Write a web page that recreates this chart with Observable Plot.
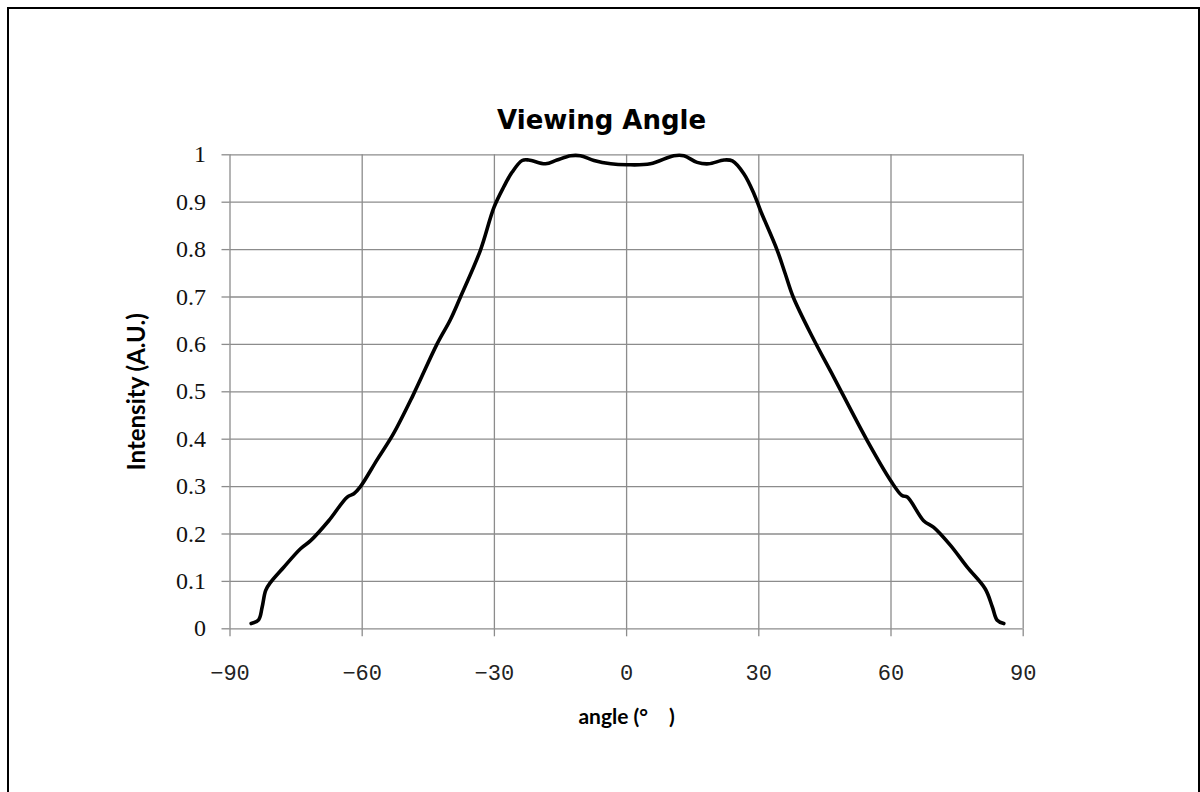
<!DOCTYPE html>
<html>
<head>
<meta charset="utf-8">
<script src="https://cdn.jsdelivr.net/npm/d3@7"></script>
<script src="https://cdn.jsdelivr.net/npm/@observablehq/plot@0.6"></script>
<style>
  html, body { margin: 0; padding: 0; background: #fff; overflow: hidden; width: 1200px; height: 792px; }
  #wrap { position: relative; width: 1200px; height: 792px; }
  #border { position: absolute; left: 7px; top: 7px; width: 1193px; height: 900px; box-sizing: border-box; border: 2px solid #000; pointer-events: none; }
</style>
</head>
<body>
<div id="wrap"><div id="chart"></div><div id="border"></div></div>
<script>
const angles = [-85.2,-83.5,-82.7,-81.9,-80.8,-77.8,-74.0,-71.7,-67.6,-63.4,-61.9,-60.4,-56.6,-53.0,-48.5,-43.0,-40.0,-37.7,-33.2,-30.1,-27.9,-26.0,-23.7,-22.2,-18.4,-15.8,-12.7,-10.5,-7.4,-3.6,0.1,5.4,10.7,13.0,16.0,18.6,22.1,24.0,26.6,28.9,30.4,34.2,36.0,37.8,42.2,47.0,54.6,59.9,62.5,63.7,67.4,69.7,73.5,77.3,81.4,83.0,84.1,85.6];
const intensity = [0.011,0.019,0.046,0.081,0.098,0.130,0.169,0.186,0.228,0.278,0.285,0.300,0.357,0.410,0.492,0.601,0.652,0.700,0.798,0.889,0.932,0.963,0.988,0.989,0.981,0.989,0.998,0.998,0.988,0.981,0.979,0.981,0.998,0.998,0.984,0.981,0.989,0.987,0.960,0.918,0.882,0.798,0.749,0.700,0.615,0.531,0.397,0.313,0.281,0.278,0.228,0.214,0.176,0.130,0.084,0.046,0.018,0.011];
const xTicks = [-90,-60,-30,0,30,60,90];
const yTicks = [0,0.1,0.2,0.3,0.4,0.5,0.6,0.7,0.8,0.9,1];
const title = "Viewing Angle";
const xLabel = "angle (°\u3000)";
const yLabel = "Intensity (A.U.)";

const data = angles.map((a, i) => ({angle: a, value: intensity[i]}));
const grid = "#8c8c8c";

const chart = Plot.plot({
  width: 1200,
  height: 792,
  marginLeft: 229.5,
  marginRight: 177.3,
  marginTop: 154.3,
  marginBottom: 163.7,
  x: {domain: [-90, 90]},
  y: {domain: [0, 1]},
  marks: [
    Plot.gridX(xTicks, {stroke: grid, strokeOpacity: 1, strokeWidth: 1.3}),
    Plot.gridY(yTicks, {stroke: grid, strokeOpacity: 1, strokeWidth: 1.3}),
    Plot.axisX(xTicks, {tickSize: 8, tickPadding: 28, fontSize: 22, fontFamily: "Liberation Mono", stroke: grid, strokeWidth: 1.3, fill: "#222", label: null}),
    Plot.axisY(yTicks, {tickSize: 8, tickPadding: 16, fontSize: 24, fontFamily: "Liberation Serif", stroke: grid, strokeWidth: 1.3, fill: "#111", label: null, tickFormat: d => String(d)}),
    Plot.line(data, {x: "angle", y: "value", curve: "catmull-rom", stroke: "#000", strokeWidth: 3.6}),
    Plot.text([title], {frameAnchor: "top", lineAnchor: "bottom", dy: -26, dx: -25, fontSize: 26, fontWeight: "bold", fontFamily: "DejaVu Sans", fill: "#000", letterSpacing: "-0.3px"}),
    Plot.text([xLabel], {frameAnchor: "bottom", textAnchor: "middle", lineAnchor: "middle", dy: 88, fontSize: 21, fontWeight: "bold", fontFamily: "Lato", fill: "#000"}),
    Plot.text([yLabel], {frameAnchor: "left", textAnchor: "middle", lineAnchor: "middle", rotate: -90, dx: -93, fontSize: 24, fontWeight: "bold", fontFamily: "Lato", fill: "#000"})
  ]
});
document.getElementById("chart").appendChild(chart);
</script>
</body>
</html>
